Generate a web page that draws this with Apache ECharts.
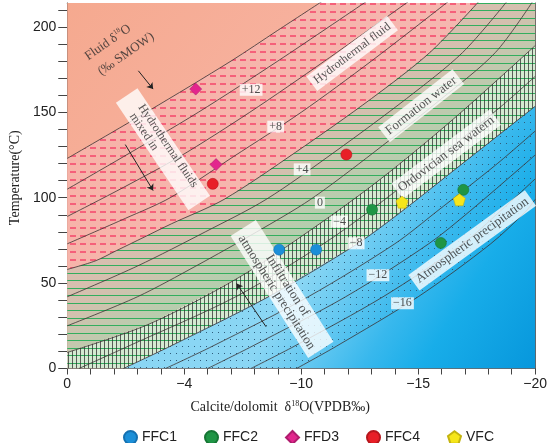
<!DOCTYPE html>
<html>
<head>
<meta charset="utf-8">
<title>Fluid d18O vs temperature</title>
<script src="https://cdn.jsdelivr.net/npm/echarts@6.0.0/dist/echarts.min.js"></script>
<style>
  html, body { margin: 0; padding: 0; background: #fff; }
  #main { width: 550px; height: 443px; }
</style>
</head>
<body>
<div id="main"></div>
<script>
// isolines of fluid d18O as [calcite d18O (VPDB), temperature C]
var iso1 = [[0, 123], [-3.5, 151], [-7, 180], [-9, 198], [-10.9, 215]];
var iso2 = [[0, 105], [-2.4, 124], [-5.6, 150], [-9, 180], [-12.8, 215]];
var iso3 = [[0, 89], [-2.4, 106], [-4.8, 124], [-7.8, 150], [-11, 180], [-14.6, 215]];
var iso4 = [[0, 73], [-2.5, 88], [-4.4, 100], [-7.1, 124], [-10, 150], [-13, 180], [-16.3, 215]];
var iso5 = [[0, 58], [-1.2, 63], [-2.1, 69], [-3.3, 77], [-4.45, 84.7], [-6.7, 99], [-9.75, 126.5], [-13, 158], [-15.5, 185], [-17.6, 215]];
var iso6 = [[0, 42], [-3, 60], [-5.9, 80], [-8.5, 99], [-11.4, 126.5], [-14.5, 158], [-16.9, 185], [-18.8, 215]];
var iso7 = [[0, 25], [-3, 42], [-5.5, 60], [-8.1, 80], [-10.4, 99], [-13.1, 126.5], [-16, 158], [-18.3, 185], [-19.9, 215]];
var iso8 = [[0, 9.4], [-3.5, 26], [-7.3, 53], [-10.5, 82], [-13.4, 111], [-16.5, 146], [-20, 189]];
var iso9 = [[-0.5, 0], [-2.6, 13], [-7.2, 42], [-10.95, 73], [-12.9, 92], [-15.45, 119], [-18.55, 153.5], [-20, 171]];
var iso10 = [[-2.4, 0], [-4.4, 13], [-8.6, 42], [-12.4, 73], [-14.3, 92], [-16.8, 119], [-20, 153.5]];
var iso11 = [[-4.2, 0], [-6.2, 13], [-10.3, 42], [-14, 73], [-15.8, 92], [-18.3, 119], [-20, 139]];
var iso12 = [[-6, 0], [-7.9, 13], [-11.9, 42], [-15.45, 73], [-17.2, 92], [-19.5, 119], [-20, 125]];
var iso13 = [[-7.85, 0], [-9.7, 13], [-13.5, 42], [-16.9, 73], [-18.5, 92], [-20, 111]];
var iso14 = [[-9.8, 0], [-11.5, 13], [-15, 42], [-18.1, 73], [-19.6, 92], [-20, 99]];

var isoLabelTexts = ['+12', '+8', '+4', '0', '−4', '−8', '−12', '−16'];
var isoLabelPoints = [[-7.86, 163.2], [-8.91, 141.6], [-10.04, 116.6], [-10.8, 97.1], [-11.64, 86.0], [-12.35, 73.3], [-13.28, 54.6], [-14.33, 38.2]];

// samples
var sampleNames = ['FFC1', 'FFC2', 'FFD3', 'FFC4', 'VFC'];
var ffc1 = [[-9.06, 69.6], [-10.64, 69.6]];
var ffc2 = [[-13.03, 93.0], [-16.93, 104.6], [-15.97, 73.5]];
var ffd3 = [[-5.49, 163.6], [-6.36, 119.4]];
var ffc4 = [[-6.22, 108.1], [-11.93, 125.3]];
var vfc = [[-14.31, 97.4], [-16.76, 98.8]];

// ticks
var xTickValues = [0, -1, -2, -3, -4, -5, -6, -7, -8, -9, -10, -11, -12, -13, -14, -15, -16, -17, -18, -19, -20];
var xLabelValues = [0, -5, -10, -15, -20];
var xLabelTexts = ['0', '−4', '−10', '−15', '−20'];
var yTickValues = [0, 10, 20, 30, 40, 50, 60, 70, 80, 90, 100, 110, 120, 130, 140, 150, 160, 170, 180, 190, 200, 210];
var yLabelValues = [0, 50, 100, 150, 200];

// annotation text, anchored in data coordinates
var notes = [
  { at: [-1.74, 190.9], text: '{t|Fluid δ}{s|18}{t|O}', rot: 35, size: 13, box: false },
  { at: [-2.51, 184.1], text: '{t|(‰ SMOW)}', rot: 35, size: 13, box: false },
  { at: [-4.09, 128.4], text: '{t|Hydrothermal fluids}\n{m|mixed in}', rot: -56, size: 12, lh: 12, box: true, pad: [1, 16] },
  { at: [-12.18, 184.5], text: '{t|Hydrothermal fluid}', rot: 37, size: 12, box: true, pad: [2, 4] },
  { at: [-15.13, 153.9], text: '{t|Formation water}', rot: 38, size: 13, box: true, pad: [2, 4] },
  { at: [-16.2, 125.5], text: '{t|Ordovician sea watern}', rot: 37, size: 13, box: true, pad: [2, 3] },
  { at: [-17.31, 75.0], text: '{t|Atmospheric precipitation}', rot: 36, size: 13, box: true, pad: [2, 4] },
  { at: [-9.18, 46.6], text: '{t|Infiltration of}\n{t|atmospheric precipitation}', rot: -57.5, size: 13, lh: 13, box: true, pad: [2, 6] }
];
var arrows = [
  [[-3.04, 174.3], [-3.67, 163.6]],
  [[-2.48, 131.1], [-3.67, 104.2]],
  [[-8.5, 24.4], [-7.24, 49.75]]
];

var serif = 'Liberation Serif';
var sans = 'Liberation Sans';
var tTop = 215;

function rev(a) { return a.slice().reverse(); }

function pattern(w, h, draw) {
  var c = document.createElement('canvas');
  c.width = w; c.height = h;
  draw(c.getContext('2d'));
  return { image: c, repeat: 'repeat' };
}

var redDash = pattern(10, 8, function (ctx) { ctx.fillStyle = '#f5607a'; ctx.fillRect(0, 3, 6, 2); });
var greenRule = pattern(8, 15, function (ctx) {
  ctx.fillStyle = '#33ae5e'; ctx.fillRect(0, 3, 8, 1); ctx.fillRect(0, 10, 8, 1);
});
var vertRule = pattern(4, 4, function (ctx) { ctx.fillStyle = 'rgba(45,45,45,0.75)'; ctx.fillRect(0, 0, 1, 4); });
var dotGrid = pattern(6, 7, function (ctx) { ctx.fillStyle = '#2d5d7c'; ctx.fillRect(2, 3, 1, 1); });

var G = echarts.graphic.LinearGradient;
var zones = [
  { pts: [[0, 0], [0, tTop], [-20, tTop], [-20, 0]],
    fill: new G(0, 0, 1, 1, [{ offset: 0, color: '#f5a98f' }, { offset: 0.35, color: '#f7b19e' }, { offset: 1, color: '#f7b7a8' }]) },
  { pts: iso1.concat(rev(iso5)),
    fill: new G(0, 0, 1, 1, [{ offset: 0, color: '#f7b2a6' }, { offset: 1, color: '#f5b8b4' }]) },
  { pts: iso5.concat([[-20, tTop]], rev(iso8)),
    fill: new G(0, 0, 0.5, 1, [{ offset: 0.35, color: '#f2b6ae' }, { offset: 0.5, color: '#dcbdb0' }, { offset: 0.62, color: '#d3c0ae' }, { offset: 0.72, color: '#bccbae' }, { offset: 0.82, color: '#a8d2ad' }]) },
  { pts: iso8.concat(rev(iso10), [[0, 0]]), fill: '#d4e9d1' },
  { pts: iso10.concat([[-20, 0]]),
    fill: new G(0, 0, 1, 1, [{ offset: 0.5, color: '#8ad6f4' }, { offset: 0.6, color: '#64c8f1' }, { offset: 0.7, color: '#38b8ed' }, { offset: 0.8, color: '#18ade9' }, { offset: 1, color: '#0797dc' }]) },
  { pts: iso1.concat(rev(iso5)), fill: redDash },
  { pts: iso5.concat([[-20, tTop]], rev(iso10), [[0, 0]]), fill: greenRule },
  { pts: iso8.concat(rev(iso10), [[0, 0]]), fill: vertRule },
  { pts: iso10.concat(rev(iso14)), fill: dotGrid }
];

var isolines = [iso1, iso2, iso3, iso4, iso5, iso6, iso7, iso8, iso9, iso10, iso11, iso12, iso13, iso14];

var series = [{
  type: 'custom',
  silent: true,
  clip: true,
  z: 1,
  data: zones.map(function () { return [0, 0]; }),
  renderItem: function (params, api) {
    var z = zones[params.dataIndex];
    return {
      type: 'polygon',
      z2: params.dataIndex,
      shape: { points: z.pts.map(function (p) { return api.coord(p); }) },
      style: { fill: z.fill, stroke: null }
    };
  }
}];

isolines.forEach(function (pts) {
  series.push({
    type: 'line', data: pts, smooth: 0.3, symbol: 'none', silent: true, z: 2,
    lineStyle: { color: '#3b3434', width: 0.8 }
  });
});

series.push({
  type: 'scatter', silent: true, z: 3, symbolSize: 1,
  itemStyle: { color: 'rgba(0,0,0,0)' },
  data: isoLabelPoints.map(function (p, i) { return { value: p, name: isoLabelTexts[i] }; }),
  label: {
    show: true, position: 'inside', formatter: '{b}',
    fontFamily: serif, fontSize: 12, color: '#222',
    backgroundColor: '#fff', padding: [0, 2], lineHeight: 12
  }
});

series.push({
  type: 'lines', coordinateSystem: 'cartesian2d', silent: true, z: 3,
  symbol: ['none', 'arrow'], symbolSize: 6,
  lineStyle: { color: '#222', width: 1, opacity: 1, curveness: 0 },
  data: arrows.map(function (a) { return { coords: a }; })
});

notes.forEach(function (n) {
  var lh = n.lh || n.size + 2;
  series.push({
    type: 'scatter', silent: true, z: 4, symbolSize: 1,
    itemStyle: { color: 'rgba(0,0,0,0)' },
    data: [n.at],
    label: {
      show: true, position: 'inside', rotate: n.rot,
      formatter: n.text,
      backgroundColor: n.box ? '#fff' : 'transparent',
      padding: n.pad || 0,
      rich: {
        t: { fontFamily: serif, fontSize: n.size, color: '#2a2a2a', lineHeight: lh },
        m: { fontFamily: serif, fontSize: n.size, color: '#2a2a2a', lineHeight: lh, padding: [0, 50, 0, 0] },
        s: { fontFamily: serif, fontSize: 7, color: '#2a2a2a', verticalAlign: 'top', lineHeight: lh }
      }
    }
  });
});

var sampleStyles = [
  { data: ffc1, symbol: 'circle', size: 11, color: '#1b8fd8', border: '#1470b0' },
  { data: ffc2, symbol: 'circle', size: 11, color: '#1f9545', border: '#167534' },
  { data: ffd3, symbol: 'diamond', size: 12, color: '#e3258d', border: '#b01c6e' },
  { data: ffc4, symbol: 'circle', size: 11, color: '#e81f27', border: '#b5161c' },
  { data: vfc, symbol: 'path://M10,0 L19.5,6.9 L15.9,18.1 L4.1,18.1 L0.5,6.9 Z', size: 12, color: '#f6e61a', border: '#c4b410' }
];
sampleStyles.forEach(function (s, i) {
  series.push({
    type: 'scatter', name: sampleNames[i], z: 5, data: s.data,
    symbol: s.symbol, symbolSize: s.size,
    itemStyle: { color: s.color, borderColor: s.border, borderWidth: 0.6, opacity: 1 }
  });
});

var chart = echarts.init(document.getElementById('main'));
chart.setOption({
  animation: false,
  grid: { left: 61, right: 13, top: 3, bottom: 74.5 },
  legend: {
    data: sampleNames, left: 118, top: 425, itemWidth: 13, itemHeight: 13, itemGap: 27,
    textStyle: { fontFamily: sans, fontSize: 14, color: '#222' }
  },
  xAxis: [{
    type: 'value', min: -20, max: 0, inverse: true,
    axisLine: { show: true, onZero: false, lineStyle: { color: '#444', width: 1 } },
    axisTick: { show: true, customValues: xTickValues, length: 6, lineStyle: { color: '#444' } },
    axisLabel: {
      customValues: xLabelValues, margin: 9, fontFamily: sans, fontSize: 14, color: '#222',
      formatter: function (v) { var i = xLabelValues.indexOf(v); return i < 0 ? '' : xLabelTexts[i]; }
    },
    splitLine: { show: false },
    name: '{a|Calcite/dolomit  δ}{s|18}{a|O(VPDB‰)}',
    nameLocation: 'middle', nameGap: 31,
    nameTextStyle: {
      padding: [0, 42, 0, 0],
      rich: {
        a: { fontFamily: serif, fontSize: 14, color: '#222', lineHeight: 16 },
        s: { fontFamily: serif, fontSize: 8, color: '#222', verticalAlign: 'top', lineHeight: 16 }
      }
    }
  }, {
    type: 'value', min: -20, max: 0, inverse: true, position: 'top',
    axisLine: { show: true, onZero: false, lineStyle: { color: '#555', width: 1 } },
    axisTick: { show: false }, axisLabel: { show: false }, splitLine: { show: false }
  }],
  yAxis: [{
    type: 'value', min: 0, max: 214,
    axisLine: { show: true, onZero: false, lineStyle: { color: '#444', width: 1 } },
    axisTick: { show: true, customValues: yTickValues, length: 9, lineStyle: { color: '#444' } },
    axisLabel: { customValues: yLabelValues, margin: 11, fontFamily: sans, fontSize: 14, color: '#222' },
    splitLine: { show: false },
    name: 'Temperature(°C)', nameLocation: 'middle', nameGap: 40,
    nameTextStyle: { fontFamily: serif, fontSize: 14, color: '#222', padding: [0, 0, 0, 16] }
  }, {
    type: 'value', min: 0, max: 214, position: 'right',
    axisLine: { show: true, onZero: false, lineStyle: { color: '#555', width: 1 } },
    axisTick: { show: false }, axisLabel: { show: false }, splitLine: { show: false }
  }],
  series: series
});
</script>
</body>
</html>
